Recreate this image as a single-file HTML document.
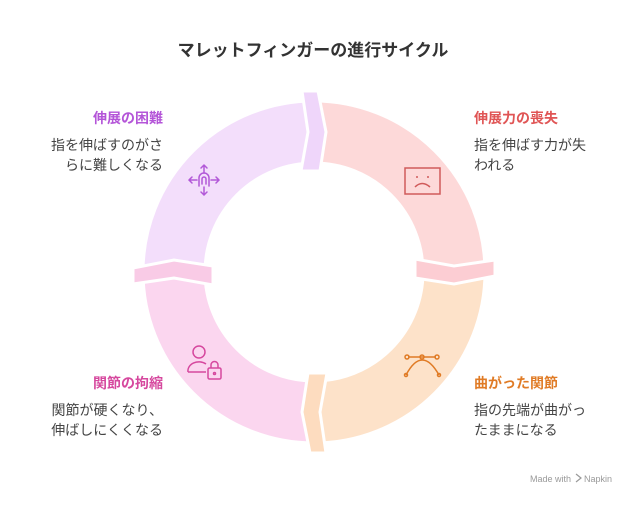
<!DOCTYPE html>
<html><head><meta charset="utf-8"><style>
body{margin:0;background:#fff;width:627px;height:500px;overflow:hidden;font-family:"Liberation Sans","Noto Sans CJK JP",sans-serif}
</style></head><body>
<svg width="627" height="500" xmlns="http://www.w3.org/2000/svg" style="font-family:'Liberation Sans','Noto Sans CJK JP',sans-serif">
<text x="313" y="56" text-anchor="middle" font-size="17" font-weight="bold" fill="#333">マレットフィンガーの進行サイクル</text>
<g stroke="#fff" stroke-width="3">
<path d="M143,272 A171,171 0 0 1 314,101 L314,163 A109,109 0 0 0 205,272 Z" fill="#f3defb"/>
<path d="M314,101 A171,171 0 0 1 485,272 L423,272 A109,109 0 0 0 314,163 Z" fill="#fdd9d9"/>
<path d="M485,272 A171,171 0 0 1 314,443 L314,381 A109,109 0 0 0 423,272 Z" fill="#fde2c9"/>
<path d="M314,443 A171,171 0 0 1 143,272 L205,272 A109,109 0 0 0 314,381 Z" fill="#fbd6ef"/>
<polygon points="302,91 318,91 326,132 320,171 301,171 308,132" fill="#efd6fa"/>
<polygon points="302,91 318,91 326,132 320,171 301,171 308,132" fill="#fccdd3" transform="rotate(90 314 272)"/>
<polygon points="302,91 318,91 326,132 320,171 301,171 308,132" fill="#fddcbf" transform="rotate(180 314 272)"/>
<polygon points="302,91 318,91 326,132 320,171 301,171 308,132" fill="#f9cbe6" transform="rotate(270 314 272)"/>
</g>
<g fill="none" stroke="#b258d8" stroke-width="1.5" stroke-linecap="round">
<path d="M204,165 v8 M201,168 l3,-3 3,3 M204,187 v8 M201,192 l3,3 3,-3 M189,180 h8 M192,177 l-3,3 3,3 M211,180 h8 M216,177 l3,3 -3,3"/>
<path d="M199,186 v-8 a5,5 0 0 1 10,0 v8 M202,184 v-5 a2,2 0 0 1 4,0 v5"/>
</g>
<g fill="none" stroke="#d05a5a" stroke-width="1.5"><rect x="405" y="168" width="35" height="26"/><path d="M415,187 q7,-7 15,0 M417,176 v2 M428,176 v2"/></g>
<g fill="none" stroke="#e07b25" stroke-width="1.5"><path d="M406,375 q16,-30 33,0"/><path d="M408,357 h28"/><circle cx="407" cy="357" r="2"/><circle cx="422" cy="357" r="2"/><circle cx="437" cy="357" r="2"/><circle cx="406" cy="375" r="1.5"/><circle cx="439" cy="375" r="1.5"/></g>
<g fill="none" stroke="#d6489e" stroke-width="1.5"><circle cx="199" cy="352" r="6"/><path d="M188,372 a11,9 0 0 1 18,-8 M188,372 h18"/><rect x="208" y="368" width="13" height="11" rx="1.5"/><path d="M211,368 v-3 a3.5,3.5 0 0 1 7,0 v3"/><circle cx="214.5" cy="373.5" r="1"/></g>
<g font-size="14">
<text x="163" y="123" text-anchor="end" font-weight="bold" fill="#b455d8">伸展の困難</text>
<text x="163" y="150" text-anchor="end" fill="#444">指を伸ばすのがさ</text>
<text x="163" y="170" text-anchor="end" fill="#444">らに難しくなる</text>
<text x="474" y="123" font-weight="bold" fill="#e05555">伸展力の喪失</text>
<text x="474" y="150" fill="#444">指を伸ばす力が失</text>
<text x="474" y="170" fill="#444">われる</text>
<text x="474" y="388" font-weight="bold" fill="#e07b25">曲がった関節</text>
<text x="474" y="415" fill="#444">指の先端が曲がっ</text>
<text x="474" y="435" fill="#444">たままになる</text>
<text x="163" y="388" text-anchor="end" font-weight="bold" fill="#d6489e">関節の拘縮</text>
<text x="163" y="415" text-anchor="end" fill="#444">関節が硬くなり、</text>
<text x="163" y="435" text-anchor="end" fill="#444">伸ばしにくくなる</text>
</g>
<text x="530" y="482" font-size="9" fill="#999">Made with</text>
<text x="584" y="482" font-size="9" fill="#999">Napkin</text>
<path d="M576,474 l5,4 -5,4" fill="none" stroke="#999" stroke-width="1.2"/>
</svg>
</body></html>
